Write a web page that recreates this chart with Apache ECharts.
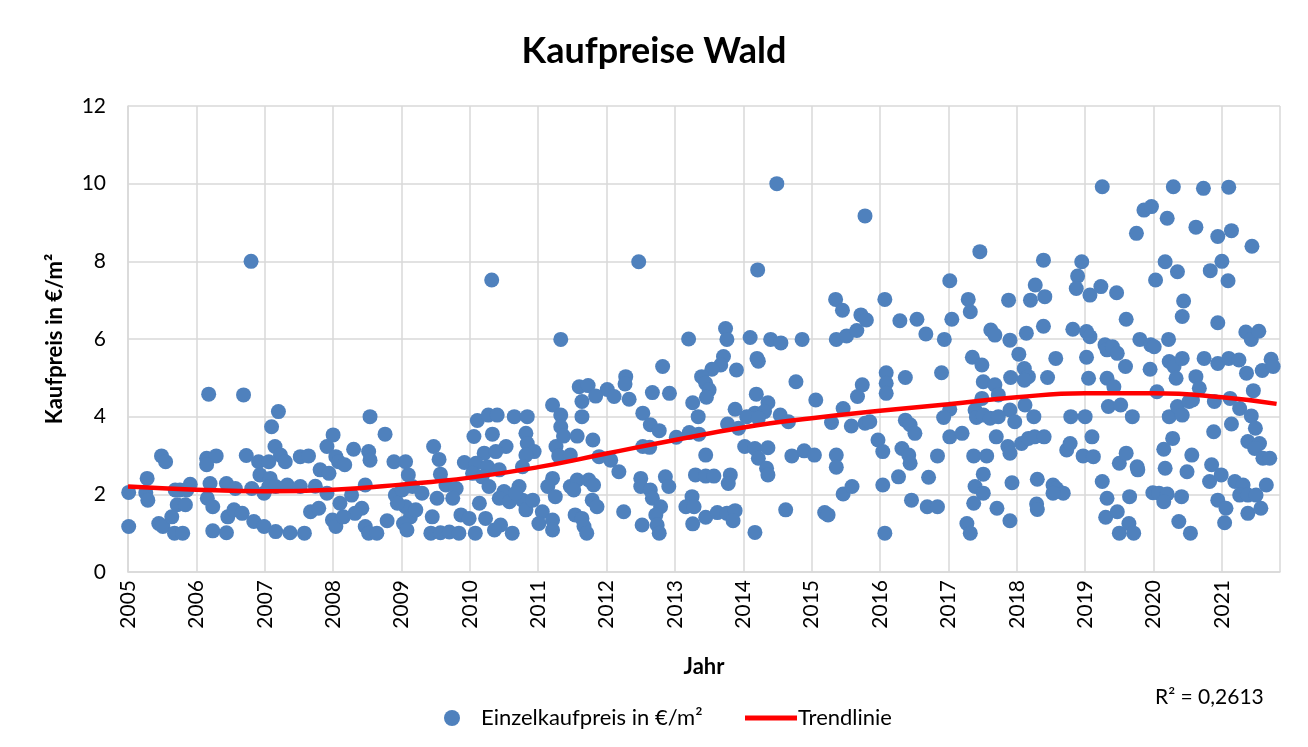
<!DOCTYPE html>
<html>
<head>
<meta charset="utf-8">
<script src="https://cdn.jsdelivr.net/npm/echarts@6/dist/echarts.min.js"></script>
<style>
html,body{margin:0;padding:0;background:#fff;}
#wrap{position:absolute;left:3px;top:3px;width:1300px;height:739px;border:1px solid #d9d9d9;}
#chart{position:absolute;left:-4px;top:-4px;width:1308px;height:747px;}
</style>
</head>
<body>
<div id="wrap"><div id="chart"></div></div>
<script>
// Tick labels
const yearTicks = [2005,2006,2007,2008,2009,2010,2011,2012,2013,2014,2015,2016,2017,2018,2019,2020,2021];
const priceTicks = [0,2,4,6,8,10,12];

// Single purchase prices [year, €/m²], grouped by period
const pts2005_2006 = [
[2005.01,2.05],[2005.01,1.17],[2005.28,2.41],[2005.26,2.04],[2005.29,1.85],[2005.49,2.99],[2005.55,2.84],[2005.45,1.25],[2005.51,1.17],[2005.91,2.26],[2005.69,2.11],[2005.76,2.11],[2005.86,2.11],[2005.72,1.73],[2005.84,1.73],[2005.64,1.42],[2005.68,1.0],[2005.80,1.0],[2006.18,4.58],[2006.15,2.93],[2006.29,2.99],[2006.15,2.76],[2006.44,2.28],[2006.2,2.28],[2006.16,1.9],[2006.24,1.68],[2006.24,1.06],[2006.44,1.01],[2006.46,1.42]
];
const pts2006_2008 = [
[2006.80,8.0],[2006.69,4.56],[2007.2,4.13],[2007.1,3.74],[2007.15,3.23],[2007.23,3.01],[2007.3,2.84],[2006.73,3.0],[2006.91,2.84],[2007.06,2.84],[2006.93,2.5],[2007.08,2.41],[2007.06,2.2],[2007.16,2.2],[2007.33,2.24],[2007.52,2.2],[2006.81,2.15],[2006.99,2.03],[2007.52,2.97],[2007.64,2.99],[2007.81,2.63],[2007.94,2.54],[2007.74,2.21],[2007.91,3.23],[2008.0,3.53],[2008.04,2.97],[2007.67,1.55],[2007.79,1.64],[2006.57,2.15],[2006.55,1.6],[2006.67,1.51],[2006.84,1.3],[2006.99,1.17],[2007.16,1.04],[2007.37,1.01],[2007.58,1.0],[2007.99,1.34],[2008.04,1.17],[2007.91,2.03]
];
const pts2008_2009 = [
[2008.54,4.0],[2008.76,3.55],[2008.30,3.16],[2008.52,3.1],[2008.54,2.88],[2008.08,2.84],[2008.17,2.76],[2008.89,2.84],[2009.06,2.84],[2009.1,2.5],[2009.47,3.23],[2009.55,2.9],[2009.57,2.52],[2008.47,2.24],[2008.27,1.98],[2008.42,1.64],[2008.32,1.51],[2008.1,1.77],[2008.15,1.42],[2008.47,1.17],[2008.52,1.0],[2008.64,1.0],[2008.79,1.32],[2008.91,1.98],[2009.01,2.11],[2009.16,2.2],[2009.3,2.03],[2009.06,1.68],[2009.13,1.42],[2009.03,1.25],[2009.08,1.08],[2009.52,1.9],[2009.45,1.42],[2009.43,1.0],[2009.57,1.01],[2009.7,1.03],[2009.65,2.24],[2008.94,1.77],[2009.21,1.6]
];
const pts2009_2011 = [
[2010.32,7.52],[2011.33,5.99],[2011.21,4.3],[2011.33,4.04],[2011.33,3.74],[2010.11,3.9],[2010.27,4.04],[2010.4,4.04],[2010.65,4.0],[2010.84,4.0],[2010.06,3.49],[2010.33,3.55],[2010.53,3.23],[2010.82,3.57],[2010.84,3.31],[2010.94,3.1],[2010.82,3.01],[2010.21,3.06],[2010.38,3.1],[2009.92,2.82],[2010.09,2.8],[2010.26,2.71],[2010.43,2.63],[2010.04,2.54],[2010.18,2.45],[2010.77,2.71],[2011.26,3.23],[2011.21,2.41],[2011.14,2.2],[2009.8,2.15],[2009.75,1.9],[2010.28,2.2],[2010.5,2.07],[2010.72,2.2],[2010.77,1.85],[2010.43,1.9],[2010.58,1.81],[2010.67,2.03],[2010.14,1.77],[2009.87,1.47],[2009.99,1.38],[2010.23,1.38],[2010.45,1.21],[2010.82,1.6],[2010.92,1.85],[2011.06,1.55],[2011.01,1.25],[2011.21,1.34],[2011.21,1.08],[2009.84,1.0],[2010.08,1.0],[2010.36,1.08],[2010.62,1.0]
];
const pts2011_2012 = [
[2012.47,7.99],[2012.82,5.29],[2011.6,4.77],[2011.73,4.8],[2012.28,5.03],[2012.27,4.84],[2012.01,4.7],[2012.11,4.52],[2011.64,4.39],[2011.84,4.53],[2012.33,4.45],[2012.67,4.62],[2011.64,4.0],[2012.92,4.6],[2012.53,4.09],[2012.64,3.79],[2012.77,3.64],[2011.37,3.5],[2011.57,3.5],[2011.8,3.4],[2011.3,2.99],[2011.47,3.01],[2011.89,2.97],[2012.06,2.88],[2012.18,2.58],[2012.53,3.23],[2012.63,3.21],[2011.47,2.2],[2011.57,2.37],[2011.74,2.37],[2011.81,2.24],[2011.25,1.94],[2011.52,2.11],[2012.5,2.41],[2012.5,2.2],[2012.64,2.11],[2012.67,1.9],[2012.86,2.45],[2012.91,2.2],[2011.79,1.85],[2011.86,1.68],[2011.54,1.47],[2011.64,1.38],[2011.67,1.17],[2011.71,1.0],[2012.25,1.55],[2012.79,1.68],[2012.72,1.47],[2012.74,1.21],[2012.77,1.0],[2012.52,1.21]
];
const pts2013_2014 = [
[2014.49,10.0],[2014.21,7.78],[2013.2,6.0],[2013.74,6.27],[2013.76,5.99],[2014.1,6.04],[2014.4,5.99],[2014.55,5.9],[2013.71,5.55],[2013.67,5.33],[2013.54,5.22],[2013.39,5.03],[2013.45,4.86],[2013.5,4.69],[2013.46,4.5],[2013.9,5.2],[2014.2,5.5],[2014.22,5.43],[2013.26,4.36],[2013.34,4.0],[2014.19,4.58],[2014.36,4.36],[2014.31,4.13],[2014.17,4.09],[2014.05,4.0],[2014.22,3.96],[2013.88,4.19],[2013.77,3.81],[2013.93,3.7],[2013.02,3.47],[2013.21,3.59],[2013.35,3.55],[2013.45,3.01],[2014.02,3.23],[2014.17,3.18],[2014.22,2.93],[2014.36,3.2],[2014.34,2.67],[2014.36,2.5],[2013.3,2.5],[2013.45,2.47],[2013.57,2.47],[2013.81,2.5],[2013.78,2.28],[2013.25,1.94],[2013.16,1.68],[2013.28,1.68],[2013.45,1.41],[2013.62,1.53],[2013.76,1.51],[2013.88,1.58],[2013.85,1.32],[2013.26,1.24],[2014.17,1.02]
];
const pts2014_2016 = [
[2015.78,9.17],[2015.35,7.02],[2015.45,6.74],[2015.72,6.62],[2015.8,6.49],[2015.36,5.99],[2015.51,6.08],[2015.66,6.22],[2016.07,7.02],[2014.86,5.99],[2014.77,4.9],[2015.06,4.43],[2015.46,4.21],[2015.74,4.82],[2015.67,4.52],[2016.09,5.13],[2016.09,4.86],[2016.09,4.6],[2014.54,4.04],[2014.66,3.87],[2015.29,3.85],[2015.58,3.76],[2015.78,3.83],[2015.85,3.87],[2014.71,2.99],[2014.89,3.12],[2015.04,3.01],[2015.36,3.01],[2015.36,2.7],[2015.97,3.4],[2016.04,3.1],[2015.46,2.01],[2015.59,2.2],[2016.04,2.24],[2014.62,1.6],[2015.19,1.53],[2015.24,1.47],[2016.07,1.0]
];
const pts2016_2017 = [
[2017.46,8.25],[2017.02,7.5],[2017.29,7.02],[2017.32,6.7],[2016.29,6.47],[2016.54,6.51],[2016.67,6.13],[2016.94,5.99],[2017.05,6.51],[2017.62,6.23],[2017.68,6.1],[2017.35,5.53],[2017.49,5.33],[2016.37,5.01],[2016.9,5.13],[2017.51,4.9],[2017.68,4.82],[2017.49,4.47],[2017.73,4.56],[2017.02,4.19],[2016.93,3.98],[2017.39,4.17],[2017.41,3.98],[2017.51,4.04],[2017.61,3.96],[2016.37,3.91],[2016.44,3.79],[2016.51,3.57],[2017.02,3.48],[2017.2,3.57],[2017.7,3.48],[2016.32,3.18],[2016.42,3.01],[2016.44,2.8],[2016.84,2.99],[2017.37,2.99],[2017.56,2.99],[2017.51,2.52],[2016.27,2.45],[2016.71,2.44],[2017.39,2.2],[2017.51,2.03],[2017.37,1.77],[2016.46,1.85],[2016.69,1.68],[2016.84,1.68],[2017.71,1.64],[2017.27,1.25],[2017.32,1.0]
];
const pts2017_2019 = [
[2019.25,9.92],[2018.39,8.03],[2018.95,7.99],[2018.27,7.39],[2018.41,7.09],[2018.2,7.0],[2018.89,7.62],[2018.87,7.3],[2019.07,7.13],[2019.23,7.35],[2017.88,7.0],[2018.39,6.33],[2017.9,5.97],[2018.14,6.15],[2018.82,6.25],[2019.02,6.19],[2019.07,6.06],[2019.29,5.85],[2019.32,5.72],[2018.03,5.61],[2018.57,5.5],[2019.02,5.53],[2017.91,5.01],[2018.11,5.24],[2018.17,5.03],[2018.11,4.94],[2018.45,5.01],[2019.05,4.99],[2019.32,4.99],[2018.12,4.3],[2017.9,4.17],[2017.97,3.87],[2017.73,4.0],[2018.25,4.0],[2018.79,4.0],[2019.0,4.0],[2019.34,4.26],[2017.87,3.23],[2017.9,3.06],[2018.07,3.31],[2018.17,3.44],[2018.26,3.48],[2018.4,3.48],[2018.73,3.14],[2018.78,3.31],[2019.1,3.48],[2018.97,2.99],[2019.12,2.97],[2017.93,2.3],[2018.3,2.39],[2018.29,1.75],[2018.3,1.61],[2018.53,2.24],[2018.58,2.15],[2018.68,2.03],[2018.53,2.03],[2019.25,2.33],[2017.9,1.32],[2019.32,1.9],[2019.3,1.41]
];
const pts2019_2020 = [
[2020.29,9.92],[2020.73,9.88],[2019.86,9.32],[2019.97,9.41],[2020.2,9.11],[2020.62,8.88],[2020.94,8.64],[2019.75,8.72],[2020.17,7.99],[2020.35,7.73],[2020.03,7.52],[2020.83,7.76],[2019.46,7.19],[2020.44,6.98],[2020.42,6.58],[2019.6,6.51],[2020.94,6.42],[2019.4,5.8],[2019.47,5.63],[2019.8,5.99],[2019.96,5.85],[2020.01,5.8],[2020.22,5.99],[2019.59,5.29],[2019.95,5.22],[2020.23,5.42],[2020.3,5.29],[2020.42,5.5],[2020.33,4.99],[2020.74,5.5],[2020.94,5.37],[2019.42,4.77],[2020.62,5.03],[2020.67,4.73],[2019.52,4.3],[2019.69,4.0],[2020.05,4.64],[2020.23,4.0],[2020.35,4.26],[2020.42,4.04],[2020.52,4.39],[2020.57,4.43],[2020.89,4.39],[2020.28,3.44],[2020.15,3.16],[2020.56,3.01],[2020.88,3.61],[2019.5,2.8],[2019.6,3.06],[2019.76,2.71],[2019.77,2.63],[2020.17,2.67],[2020.49,2.58],[2020.85,2.76],[2020.82,2.33],[2019.47,1.55],[2019.65,1.94],[2019.5,1.0],[2019.64,1.25],[2019.71,1.0],[2019.99,2.04],[2020.08,2.03],[2020.2,2.01],[2020.15,1.81],[2020.41,1.94],[2020.37,1.3],[2020.54,1.0],[2020.94,1.85]
];
const pts2021 = [
[2021.1,9.91],[2021.14,8.79],[2021.44,8.39],[2021.0,8.0],[2021.09,7.5],[2021.35,6.18],[2021.43,5.99],[2021.54,6.2],[2021.1,5.5],[2021.25,5.46],[2021.36,5.12],[2021.59,5.19],[2021.72,5.48],[2021.75,5.29],[2021.46,4.67],[2021.12,4.47],[2021.26,4.21],[2021.43,4.02],[2021.49,3.7],[2021.14,3.81],[2021.38,3.36],[2021.55,3.31],[2021.48,3.18],[2021.6,2.93],[2021.7,2.93],[2020.99,2.5],[2021.19,2.33],[2021.31,2.24],[2021.26,1.98],[2021.38,1.98],[2021.5,1.98],[2021.65,2.24],[2021.06,1.64],[2021.04,1.27],[2021.38,1.51],[2021.57,1.64]
];

// Trend line [year, €/m²]
const trendYears  = [2005, 2006, 2007, 2008, 2009, 2010, 2011, 2012, 2013, 2014, 2015, 2016, 2017, 2018, 2019, 2020, 2021, 2021.8];
const trendValues = [2.2, 2.12, 2.08, 2.12, 2.25, 2.43, 2.7, 3.05, 3.4, 3.72, 3.96, 4.15, 4.32, 4.5, 4.6, 4.6, 4.5, 4.33];

const rSquared = 'R² = 0,2613';

const points = [].concat(pts2005_2006, pts2006_2008, pts2008_2009, pts2009_2011, pts2011_2012,
  pts2013_2014, pts2014_2016, pts2016_2017, pts2017_2019, pts2019_2020, pts2021);
const trend = trendYears.map((y, i) => [y, trendValues[i]]);

const FONT = 'Lato';
const chart = echarts.init(document.getElementById('chart'), null, {renderer: 'canvas'});
chart.setOption({
  backgroundColor: '#ffffff',
  textStyle: {fontFamily: FONT},
  animation: false,
  title: {
    text: 'Kaufpreise Wald',
    left: 'center', top: 28,
    textStyle: {fontFamily: FONT, fontSize: 36, fontWeight: 'bold', color: '#000'}
  },
  grid: {left: 128, right: 28, top: 106, bottom: 175, containLabel: false},
  xAxis: {
    type: 'value',
    min: yearTicks[0], max: 2021.85, interval: 1,
    name: 'Jahr', nameLocation: 'middle', nameGap: 84,
    nameTextStyle: {fontFamily: FONT, fontSize: 22, fontWeight: 'bold', color: '#000'},
    axisLine: {show: true, lineStyle: {color: '#d9d9d9', width: 1.5}},
    axisTick: {show: false},
    splitLine: {show: true, lineStyle: {color: '#d9d9d9', width: 1.5}},
    axisLabel: {
      rotate: 90, fontSize: 21, color: '#000', margin: 8, showMaxLabel: false,
      formatter: v => yearTicks.indexOf(Math.round(v)) >= 0 ? String(Math.round(v)) : ''
    }
  },
  yAxis: {
    type: 'value',
    min: priceTicks[0], max: priceTicks[priceTicks.length - 1], interval: 2,
    name: 'Kaufpreis in €/m²', nameLocation: 'middle', nameGap: 62, nameRotate: 90,
    nameTextStyle: {fontFamily: FONT, fontSize: 22, fontWeight: 'bold', color: '#000'},
    axisLine: {show: true, lineStyle: {color: '#d9d9d9', width: 1.5}},
    axisTick: {show: false},
    splitLine: {show: true, lineStyle: {color: '#d9d9d9', width: 1.5}},
    axisLabel: {fontSize: 21, color: '#000', margin: 22}
  },
  legend: [{
    data: [{name: 'Einzelkaufpreis in €/m²', icon: 'circle'}],
    left: 439, top: 702, itemWidth: 16, itemHeight: 16, itemGap: 10,
    textStyle: {fontFamily: FONT, fontSize: 22, color: '#000', padding: [0,0,0,16]}
  }, {
    data: [{name: 'Trendlinie', icon: 'rect'}],
    left: 740, top: 702, itemWidth: 52, itemHeight: 5, itemGap: 4,
    textStyle: {fontFamily: FONT, fontSize: 22, color: '#000', padding: [0,0,0,-4]}
  }],
  graphic: [{
    type: 'text', left: 1155, top: 687,
    style: {text: rSquared, font: '21px Lato', fill: '#000'}
  }],
  series: [{
    name: 'Einzelkaufpreis in €/m²',
    type: 'scatter',
    data: points,
    symbol: 'circle', symbolSize: 15,
    itemStyle: {color: '#4f81bd', opacity: 1},
    z: 2
  }, {
    name: 'Trendlinie',
    type: 'line',
    data: trend,
    smooth: true, showSymbol: false, symbol: 'none',
    lineStyle: {color: '#ff0000', width: 4.5},
    itemStyle: {color: '#ff0000'},
    z: 3
  }]
});
</script>
</body>
</html>
